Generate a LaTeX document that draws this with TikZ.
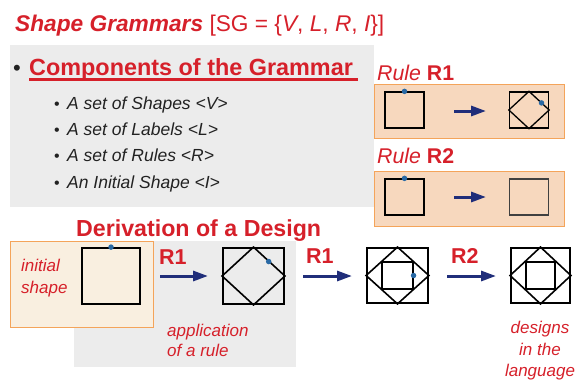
\documentclass[tikz,border=0pt]{standalone}
\usepackage{fontspec}
\setmainfont{Liberation Sans}
\usetikzlibrary{arrows.meta,calc}
\definecolor{sgred}{RGB}{214,32,42}
\definecolor{sggray}{RGB}{236,236,236}
\definecolor{sgpeach}{RGB}{247,216,190}
\definecolor{sgcream}{RGB}{249,239,224}
\definecolor{sgorange}{RGB}{244,164,90}
\definecolor{sgnavy}{RGB}{32,46,122}
\definecolor{sgblue}{RGB}{40,105,165}
\definecolor{sgtext}{RGB}{34,34,34}
\tikzset{
  rulesq/.style={draw=black,line width=1.3pt,minimum width=39pt,minimum height=36pt,inner sep=0pt},
  dersq/.style={draw=black,line width=1.8pt,minimum width=58pt,minimum height=56pt,inner sep=0pt},
  dersqin/.style={draw=black,line width=1.6pt,minimum width=29pt,minimum height=27pt,inner sep=0pt},
  dotmark/.style={fill=sgblue,circle,inner sep=0pt,minimum size=5.5pt},
  navyarrow/.style={draw=sgnavy,line width=3pt,-{Triangle[length=15pt,width=10pt]}},
  redlbl/.style={text=sgred,inner sep=0pt,anchor=base west},
  item/.style={text=sgtext,inner sep=0pt,anchor=base west,font=\fontsize{17.5}{19}\selectfont\itshape},
  orangebox/.style={draw=sgorange,line width=1pt},
}
\begin{document}
\begin{tikzpicture}[x=1pt,y=-1pt]
\useasboundingbox (0,0) rectangle (584,381);
% title
\node[redlbl] (title) at (15,31) {\fontsize{22.7}{26}\selectfont\bfseries\itshape Shape Grammars \mdseries\upshape[SG = \{\itshape V\upshape, \itshape L\upshape, \itshape R\upshape, \itshape I\upshape\}]};
% top gray panel
\fill[sggray] (10,45) rectangle (374,207);
\node[text=sgtext,inner sep=0pt,anchor=base west] (b0) at (13,75) {\fontsize{22}{24}\selectfont\textbullet};
\node[redlbl] (comp) at (29,75) {\fontsize{23.4}{26}\selectfont\bfseries Components of the Grammar};
\draw[sgred,line width=3pt] (29,79.5) -- (358,79.5);
\foreach \t [count=\i] in {A set of Shapes <V>,A set of Labels <L>,A set of Rules <R>,An Initial Shape <I>}{
  \node[text=sgtext,inner sep=0pt,anchor=base west] (bl\i) at (54,{83+26.3*\i}) {\fontsize{16}{18}\selectfont\textbullet};
  \node[item] (it\i) at (67,{83+26.3*\i}) {\t};
}
% rule R1
\node[redlbl] (r1lbl) at (377,80) {\fontsize{21.3}{24}\selectfont\itshape Rule \bfseries\upshape R1};
\draw[orangebox,fill=sgpeach] (374,84) rectangle (564,138);
\node[rulesq] (r1a) at (404.5,110) {};
\node[dotmark] at (r1a.north) {};
\node[rulesq] (r1b) at (529,110) {};
\draw[line width=1.3pt] (r1b.north) -- (r1b.east) -- (r1b.south) -- (r1b.west) -- cycle;
\node[dotmark] at ($(r1b.north)!0.62!(r1b.east)$) {};
\coordinate (r1s) at (454,111);
\coordinate (r1e) at (486,111);
\draw[navyarrow] (r1s) -- (r1e);
% rule R2
\node[redlbl] (r2lbl) at (377,163) {\fontsize{21.3}{24}\selectfont\itshape Rule \bfseries\upshape R2};
\draw[orangebox,fill=sgpeach] (374,171) rectangle (564,226);
\node[rulesq] (r2a) at (404.5,197) {};
\node[dotmark] at (r2a.north) {};
\node[rulesq,draw=black!75] (r2b) at (529,197) {};
\coordinate (r2s) at (454,197);
\coordinate (r2e) at (486,197);
\draw[navyarrow] (r2s) -- (r2e);
% derivation
\node[redlbl] (der) at (76,236) {\fontsize{23.2}{26}\selectfont\bfseries Derivation of a Design};
\fill[sggray] (74,241) rectangle (296,367);
\draw[orangebox,fill=sgcream] (10,241) rectangle (153,327);
\node[text=sgred,inner sep=0pt,align=left,anchor=north west,font=\fontsize{17}{21.5}\selectfont\itshape] (init) at (21,259) {initial\\shape};
\node[dersq] (d1) at (111,276) {};
\node[dotmark] at (d1.north) {};
\node[redlbl] (lr1a) at (159,264) {\fontsize{21.5}{24}\selectfont\bfseries R1};
\coordinate (a1s) at (160,276);
\coordinate (a1e) at (208,276);
\draw[navyarrow] (a1s) -- (a1e);
\node[dersq,minimum width=61pt] (d2) at (253.5,276) {};
\draw[line width=1.6pt] (d2.north) -- (d2.east) -- (d2.south) -- (d2.west) -- cycle;
\node[dotmark] at ($(d2.north)!0.5!(d2.east)+(-0.5,0)$) {};
\node[text=sgred,inner sep=0pt,align=left,anchor=north west,font=\fontsize{17}{20}\selectfont\itshape] (app) at (167,324) {application\\of a rule};
\node[redlbl] (lr1b) at (306,263) {\fontsize{21.5}{24}\selectfont\bfseries R1};
\coordinate (a2s) at (303,276);
\coordinate (a2e) at (352,276);
\draw[navyarrow] (a2s) -- (a2e);
\node[dersq,minimum width=61pt,minimum height=55pt] (d3) at (397.5,275.5) {};
\draw[line width=1.6pt] (d3.north) -- (d3.east) -- (d3.south) -- (d3.west) -- cycle;
\node[dersqin,minimum width=30.5pt] (d3i) at (397.5,275.5) {};
\node[dotmark] at (d3i.east) {};
\node[redlbl] (lr2) at (451,263) {\fontsize{21.5}{24}\selectfont\bfseries R2};
\coordinate (a3s) at (447,276);
\coordinate (a3e) at (496,276);
\draw[navyarrow] (a3s) -- (a3e);
\node[dersq,minimum width=59pt,minimum height=55pt] (d4) at (540.5,275.5) {};
\draw[line width=1.6pt] (d4.north) -- (d4.east) -- (d4.south) -- (d4.west) -- cycle;
\node[dersqin,minimum width=29.5pt] (d4i) at (540.5,275.5) {};
\node[text=sgred,inner sep=0pt,align=center,anchor=north,font=\fontsize{17}{21.5}\selectfont\itshape] (des) at (540,321) {designs\\in the\\language};
\end{tikzpicture}
\end{document}
